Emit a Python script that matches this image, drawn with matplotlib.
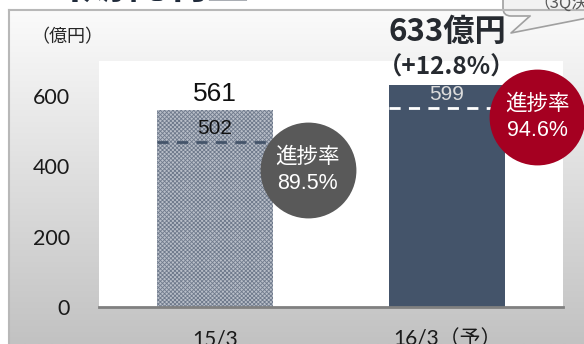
import matplotlib.pyplot as plt
import matplotlib.transforms as mtransforms
import numpy as np
from matplotlib.colors import LinearSegmentedColormap
from matplotlib.patches import FancyBboxPatch, Polygon

categories = ['15/3', '16/3（予）']
full_year = [561, 633]      # 通期実績 / 通期予想
q3_actual = [502, 599]      # 3Q累計
yticks = [0, 200, 400, 600]

navy = '#44546a'
jp = ['Noto Sans CJK JP', 'DejaVu Sans']
num = ['Liberation Sans', 'Noto Sans CJK JP']
tick_font = ['Lato', 'Noto Sans CJK JP']

plt.rcParams['hatch.linewidth'] = 0.6

fig = plt.figure(figsize=(5.84, 3.44), dpi=100)

# background panel, drawn in pixel units
bg = fig.add_axes([0, 0, 1, 1])
cmap = LinearSegmentedColormap.from_list('panel', ['#fbfbfb', '#c2c2c2'])
bg.imshow(np.linspace(0, 1, 256)[:, None], cmap=cmap,
          extent=[9, 584, 344, 10], aspect='auto')
bg.plot([9, 9], [344, 10], color='#b8b8b8', lw=1.5)
bg.plot([9, 584], [10, 10], color='#b8b8b8', lw=1.5)
bg.set_xlim(0, 584)
bg.set_ylim(344, 0)
bg.axis('off')

bg.text(0, 7, '■当期純利益', fontsize=30, fontweight='bold', color='#1f2a3a',
        family=jp, ha='left', va='bottom')
bg.text(67, 37, '（億円）', fontsize=13, color='#262626', family=jp,
        ha='center', va='center')

# speech bubble, top right
bubble = FancyBboxPatch((503, -40), 120, 56,
                        boxstyle='round,pad=0,rounding_size=8',
                        fc='#f2f2f2', ec='#a0a0a0', lw=1.2)
bg.add_patch(bubble)
bg.add_patch(Polygon([(530, 15), (511, 33), (600, 15)], closed=True,
                     fc='#f2f2f2', ec='none'))
bg.plot([530, 511, 600], [16, 33, 15.5], color='#a0a0a0', lw=1.2)
bg.text(533, 3, '（3Q決算時予想）', fontsize=12, color='#595959', family=jp,
        ha='left', va='center')

# main chart
ax = fig.add_axes([99 / 584, 37 / 344, 464 / 584, 246 / 344])
x = np.arange(len(categories))
bars = ax.bar(x, full_year, width=0.5, color=['#b8bec8', navy], lw=0, zorder=2)
bars[0].set_hatch('xxxxxxxx')
bars[0].set_edgecolor('#6f7a8c')
bars[0].set_linewidth(0)

# 3Q figures: value label with a dashed underline across the bar
underline = ax.transData + mtransforms.ScaledTranslation(0, -8 / 72,
                                                         fig.dpi_scale_trans)
ax.hlines(q3_actual, x - 0.25, x + 0.25, colors=[navy, 'white'],
          linestyles=(0, (4, 3)), lw=2, zorder=3, transform=underline)
for i, v in enumerate(q3_actual):
    ax.annotate(str(v), (i, v), xytext=(0, 1.5), textcoords='offset points',
                ha='center', va='center', fontsize=15, family=num,
                color=['#111111', '#dcdcdc'][i], zorder=4)

ax.annotate(str(full_year[0]), (0, full_year[0]), xytext=(0, 3),
            textcoords='offset points', ha='center', va='bottom',
            fontsize=19, family=num, color='#111111')
growth = (full_year[1] / full_year[0] - 1) * 100
ax.annotate(f'{full_year[1]}億円', (1, full_year[1]), xytext=(0, 37.5),
            textcoords='offset points', ha='center', va='center',
            fontsize=22.5, fontweight='bold', family=jp, color='#262a30',
            annotation_clip=False)
ax.annotate(f'（+{growth:.1f}%）', (1, full_year[1]), xytext=(0, 12.5),
            textcoords='offset points', ha='center', va='center',
            fontsize=17.5, fontweight='bold', family=jp, color='#262a30',
            annotation_clip=False)

# progress badges
badge_pos = [(0.40, 390), (1.39, 541)]
badge_col = ['#595959', '#a50021']
for i, (bx, by) in enumerate(badge_pos):
    rate = q3_actual[i] / full_year[i] * 100
    ax.scatter([bx], [by], s=69 ** 2, color=badge_col[i], lw=0,
               clip_on=False, zorder=5)
    ax.annotate('進捗率', (bx, by), xytext=(0, 9.5), textcoords='offset points',
                ha='center', va='center', fontsize=15.5, color='white',
                family=jp, zorder=6, annotation_clip=False)
    ax.annotate(f'{rate:.1f}%', (bx, by), xytext=(0, -9.5),
                textcoords='offset points', ha='center', va='center',
                fontsize=15.5, color='white', family=num, zorder=6,
                annotation_clip=False)

ax.set_xlim(-0.5, 1.5)
ax.set_ylim(0, 700)
ax.set_yticks(yticks)
ax.set_yticklabels([str(t) for t in yticks], family=tick_font, fontsize=15.5,
                   color='#1a1a1a')
ax.set_xticks(x)
ax.set_xticklabels(categories, family=tick_font, fontsize=15, color='#1a1a1a')
ax.tick_params(axis='y', length=0, pad=21)
ax.tick_params(axis='x', length=0, pad=16)
for side in ['top', 'right', 'left']:
    ax.spines[side].set_visible(False)
ax.spines['bottom'].set_color('#808080')
ax.spines['bottom'].set_linewidth(2)
ax.set_facecolor('white')

fig.savefig('out.png', dpi=100)
